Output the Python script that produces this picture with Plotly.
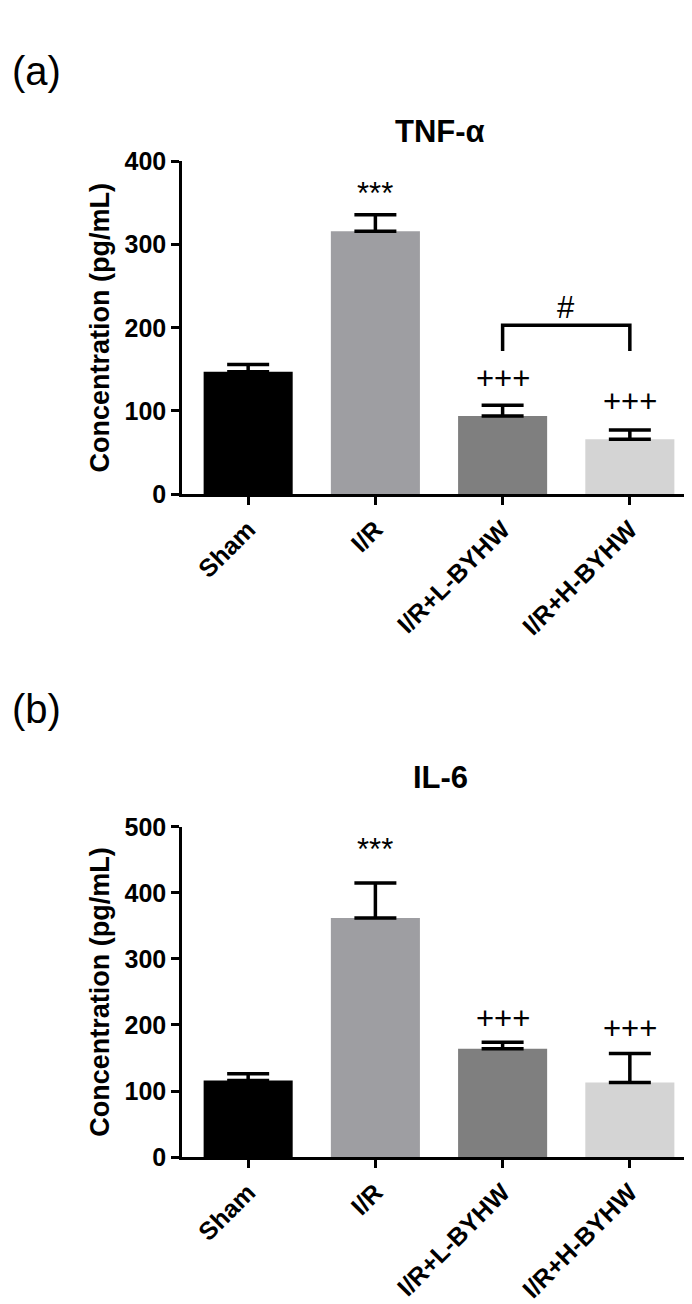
import plotly.graph_objects as go

categories = ["Sham", "I/R", "I/R+L-BYHW", "I/R+H-BYHW"]
bar_colors = ["#000000", "#9e9ea2", "#7f7f7f", "#d4d4d4"]

tnf_mean = [147, 316, 94, 66]
tnf_err = [9, 20, 13, 11]
tnf_marks = ["", "***", "+++", "+++"]
tnf_mark_y = [0, 362, 139, 111]
tnf_ticks = [0, 100, 200, 300, 400]

il6_mean = [116, 362, 164, 113]
il6_err = [10, 53, 10, 44]
il6_marks = ["", "***", "+++", "+++"]
il6_mark_y = [0, 465, 210, 195]
il6_ticks = [0, 100, 200, 300, 400, 500]

bracket_low = 172
bracket_high = 203
bracket_label_y = 224

W, H = 692, 1304
FONT = "Liberation Sans, Arial, sans-serif"
xpos = list(range(len(categories)))

fig = go.Figure()

def px_y(p):
    return 1 - p / H

def add_panel(idx, means, errs, marks, mark_y, ticks, ydom):
    xa = "x" if idx == 1 else "x2"
    ya = "y" if idx == 1 else "y2"
    fig.add_trace(go.Bar(
        x=xpos, y=means, width=0.7,
        marker=dict(color=bar_colors, line=dict(width=0)),
        error_y=dict(type="data", array=errs, arrayminus=[0] * len(errs),
                     symmetric=False, color="black", thickness=3.5, width=21),
        xaxis=xa, yaxis=ya, showlegend=False, hoverinfo="skip",
    ))
    for xi, m, yv in zip(xpos, marks, mark_y):
        if m:
            fig.add_annotation(x=xi, y=yv, xref=xa, yref=ya, text=m,
                               showarrow=False, yanchor="middle",
                               font=dict(family=FONT, size=31, color="black"))
    axis_common = dict(showline=True, linecolor="black", linewidth=2.5,
                       ticks="outside", ticklen=8, tickwidth=2.5, tickcolor="black",
                       showgrid=False, zeroline=False)
    xkey = "xaxis" if idx == 1 else "xaxis2"
    ykey = "yaxis" if idx == 1 else "yaxis2"
    fig.update_layout({
        xkey: dict(domain=[174 / W, 688 / W], range=[-0.52, 3.52],
                   tickvals=xpos, ticktext=categories, tickangle=-45,
                   anchor=ya,
                   tickfont=dict(family=FONT, size=25, color="black", weight="bold"),
                   **axis_common),
        ykey: dict(domain=ydom, range=[0, ticks[-1]], tickvals=ticks,
                   anchor=xa,
                   tickfont=dict(family=FONT, size=25, color="black", weight="bold"),
                   title=dict(text="<b>Concentration (pg/mL)</b>", standoff=8,
                              font=dict(family=FONT, size=27, color="black")),
                   **axis_common),
    })

add_panel(1, tnf_mean, tnf_err, tnf_marks, tnf_mark_y, tnf_ticks,
          [px_y(482.5), px_y(142.5)])
add_panel(2, il6_mean, il6_err, il6_marks, il6_mark_y, il6_ticks,
          [px_y(1160), px_y(822.5)])

# significance bracket between L-BYHW and H-BYHW (panel a)
fig.add_shape(type="path",
              path=f"M {xpos[2]},{bracket_low} L {xpos[2]},{bracket_high} L {xpos[3]},{bracket_high} L {xpos[3]},{bracket_low}",
              xref="x", yref="y", line=dict(color="black", width=3.5))
fig.add_annotation(x=(xpos[2] + xpos[3]) / 2, y=bracket_label_y, xref="x", yref="y",
                   text="#", showarrow=False, yanchor="middle",
                   font=dict(family=FONT, size=31, color="black"))

# titles and panel letters
fig.add_annotation(x=432 / W, y=px_y(92), xref="paper", yref="paper", text="<b>TNF-α</b>",
                   showarrow=False, font=dict(family=FONT, size=31, color="black"))
fig.add_annotation(x=432 / W, y=px_y(772), xref="paper", yref="paper", text="<b>IL-6</b>",
                   showarrow=False, font=dict(family=FONT, size=31, color="black"))
fig.add_annotation(x=2 / W, y=px_y(26), xref="paper", yref="paper", text="(a)",
                   xanchor="left", showarrow=False, font=dict(family=FONT, size=40, color="black"))
fig.add_annotation(x=2 / W, y=px_y(702), xref="paper", yref="paper", text="(b)",
                   xanchor="left", showarrow=False, font=dict(family=FONT, size=40, color="black"))

fig.update_layout(width=W, height=H, margin=dict(l=0, r=0, t=0, b=0),
                  paper_bgcolor="white", plot_bgcolor="white", bargap=0.3)

fig.write_html("out.html")
